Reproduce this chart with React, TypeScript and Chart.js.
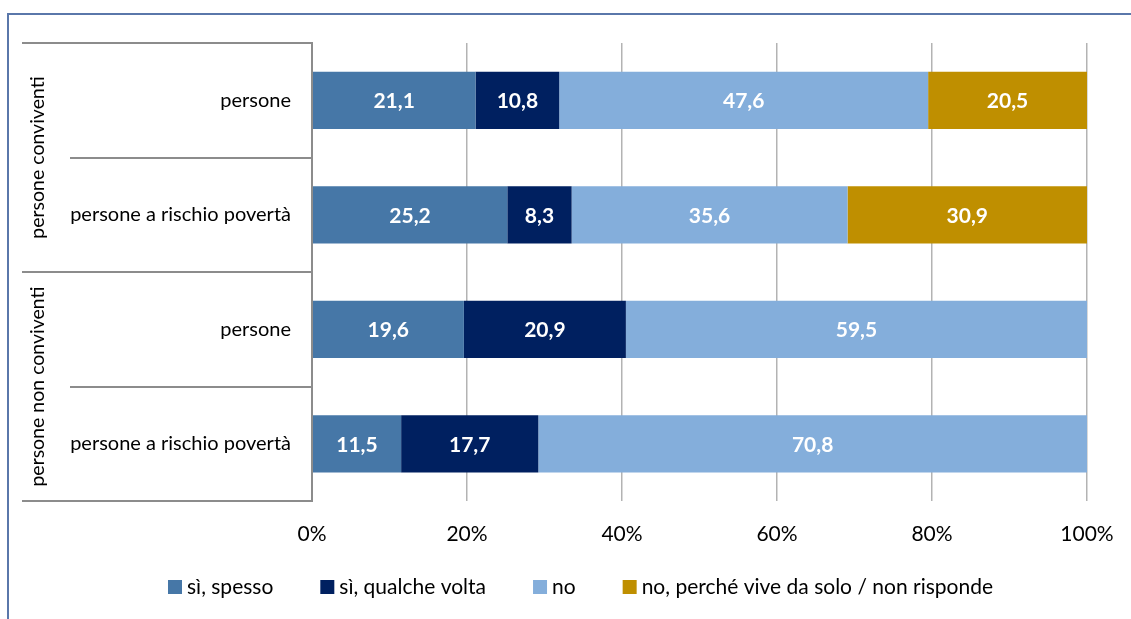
import React, { useEffect, useRef } from "react";
import { Chart, registerables } from "chart.js";

Chart.register(...registerables);

const categories = ["persone", "persone a rischio povertà", "persone", "persone a rischio povertà"];
const groups = ["persone conviventi", "persone non conviventi"];
const seriesNames = ["sì, spesso", "sì, qualche volta", "no", "no, perché vive da solo / non risponde"];
const siSpesso = [21.1, 25.2, 19.6, 11.5];
const siQualcheVolta = [10.8, 8.3, 20.9, 17.7];
const no = [47.6, 35.6, 59.5, 70.8];
const noPerche = [20.5, 30.9, null, null];
const xTicks = [0, 20, 40, 60, 80, 100];

const colors = ["#4677A7", "#002060", "#84AEDB", "#BF8F00"];
const FONT = "Lato";

const decorPlugin = {
  id: "decor",
  afterDraw(chart: any) {
    const ctx = chart.ctx;
    const area = chart.chartArea;
    const ys = chart.scales.y;
    ctx.save();
    // frame
    ctx.strokeStyle = "#5A77AA";
    ctx.lineWidth = 2;
    ctx.beginPath();
    ctx.moveTo(8, 619);
    ctx.lineTo(8, 14);
    ctx.lineTo(1131, 14);
    ctx.stroke();

    // left hierarchical axis
    const centers = categories.map((_, i) => ys.getPixelForValue(i));
    const step = centers.length > 1 ? centers[1] - centers[0] : 100;
    const bounds = [centers[0] - step / 2];
    centers.forEach((c) => bounds.push(c + step / 2));
    ctx.strokeStyle = "#8C8C8C";
    ctx.lineWidth = 2;
    bounds.forEach((b, i) => {
      const x0 = i % 2 === 0 ? 22 : 70;
      ctx.beginPath();
      ctx.moveTo(x0, Math.round(b));
      ctx.lineTo(area.left, Math.round(b));
      ctx.stroke();
    });
    ctx.beginPath();
    ctx.moveTo(area.left, bounds[0] - 1);
    ctx.lineTo(area.left, bounds[bounds.length - 1] + 1);
    ctx.stroke();

    ctx.fillStyle = "#000";
    ctx.font = `20px ${FONT}`;
    ctx.textAlign = "right";
    ctx.textBaseline = "middle";
    categories.forEach((c, i) => ctx.fillText(c, 291, centers[i]));

    ctx.textAlign = "center";
    ctx.font = `19.5px ${FONT}`;
    groups.forEach((g, gi) => {
      const yMid = (bounds[gi * 2] + bounds[gi * 2 + 2]) / 2;
      ctx.save();
      ctx.translate(38, yMid);
      ctx.rotate(-Math.PI / 2);
      ctx.fillText(g, 0, 0);
      ctx.restore();
    });

    // data labels
    ctx.fillStyle = "#fff";
    ctx.font = `bold 21px ${FONT}`;
    chart.data.datasets.forEach((ds: any, di: number) => {
      const meta = chart.getDatasetMeta(di);
      meta.data.forEach((el: any, i: number) => {
        const v = ds.data[i];
        if (v === null || v === undefined) return;
        const cx = (el.x + el.base) / 2;
        ctx.fillText(v.toFixed(1).replace(".", ","), cx, el.y + 1);
      });
    });

    // legend
    ctx.font = `21px ${FONT}`;
    ctx.textAlign = "left";
    const box = 14;
    const gapBox = 5;
    const gapItem = 47;
    const widths = seriesNames.map((n) => box + gapBox + ctx.measureText(n).width);
    const total = widths.reduce((a, b) => a + b, 0) + gapItem * (widths.length - 1);
    let x = 580.5 - total / 2;
    const ly = 587;
    seriesNames.forEach((n, i) => {
      ctx.fillStyle = colors[i];
      ctx.fillRect(x, ly - 7, box, box);
      ctx.fillStyle = "#000";
      ctx.fillText(n, x + box + gapBox, ly);
      x += widths[i] + gapItem;
    });
    ctx.restore();
  },
};

export default function App() {
  const ref = useRef<HTMLCanvasElement>(null);
  useEffect(() => {
    if (!ref.current) return;
    const data = [siSpesso, siQualcheVolta, no, noPerche];
    const chart = new Chart(ref.current, {
      type: "bar",
      data: {
        labels: categories,
        datasets: seriesNames.map((n, i) => ({
          label: n,
          data: data[i],
          backgroundColor: colors[i],
          borderWidth: 0,
          barPercentage: 0.5,
          categoryPercentage: 1,
        })),
      },
      options: {
        indexAxis: "y",
        responsive: false,
        animation: false,
        layout: { padding: { left: 312, right: 44, top: 43, bottom: 68 } },
        plugins: { legend: { display: false }, tooltip: { enabled: false } },
        scales: {
          x: {
            stacked: true,
            min: 0,
            max: 100,
            afterBuildTicks: (scale: any) => {
              scale.ticks = xTicks.map((v) => ({ value: v }));
            },
            afterFit: (scale: any) => {
              scale.height = 50;
              scale.paddingLeft = 0;
              scale.paddingRight = 0;
            },
            ticks: {
              callback: (v: any) => v + "%",
              font: { family: FONT, size: 21 },
              color: "#000",
              padding: 21,
              maxRotation: 0,
            },
            grid: { color: "#B3B3B3", lineWidth: 1.5, drawTicks: false },
            border: { display: false },
          },
          y: {
            stacked: true,
            display: false,
          },
        },
      },
      plugins: [decorPlugin],
    });
    return () => chart.destroy();
  }, []);
  return (
    <div style={{ position: "absolute", left: 0, top: 0, width: 1131, height: 619, background: "#fff" }}>
      <canvas ref={ref} width={1131} height={619} style={{ display: "block" }} />
    </div>
  );
}
